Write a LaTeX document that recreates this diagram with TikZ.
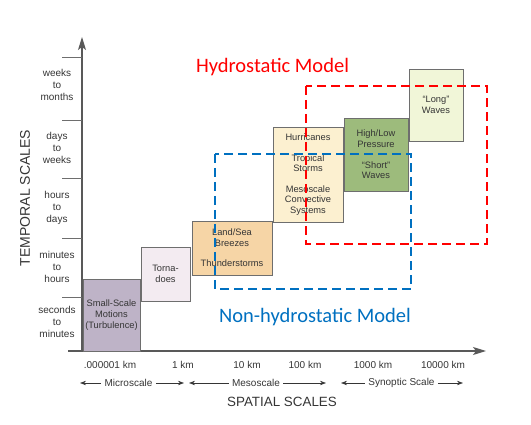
\documentclass[tikz,border=0pt]{standalone}
\usepackage{fontspec}
\setmainfont{Liberation Sans}
\newfontfamily\titlefont{Carlito}
\usepackage{xcolor}
\usetikzlibrary{arrows.meta}
\definecolor{inkgray}{HTML}{353535}
\definecolor{boxgray}{HTML}{6E6E6E}
\definecolor{turbfill}{HTML}{BEB3C7}
\definecolor{tornfill}{HTML}{F3EBF1}
\definecolor{landfill}{HTML}{F6D5A6}
\definecolor{hurrfill}{HTML}{FCF0D0}
\definecolor{pressfill}{HTML}{9DBB7C}
\definecolor{longfill}{HTML}{F1F6D8}
\definecolor{hydrored}{HTML}{FF0000}
\definecolor{nonblue}{HTML}{0070C0}
\tikzset{cell/.style = {draw=boxgray, line width=0.8pt, align=center, inner sep=0pt, text=inkgray, font=\fontsize{9.3}{10.6}\selectfont}}
\tikzset{axis/.style = {-{Stealth[length=13pt,width=8pt,inset=3pt]}, line width=1.3pt, black!65}}
\tikzset{tick/.style = {line width=0.8pt, boxgray}}
\tikzset{scalearrow/.style = {-{Stealth[length=6pt,width=4.4pt]}, line width=0.6pt, inkgray}}
\tikzset{smalltext/.style = {align=center, text=inkgray, font=\fontsize{10}{12}\selectfont}}
\tikzset{modelbox/.style = {line width=2.4pt, dash pattern=on 9pt off 5pt}}

\begin{document}
\begin{tikzpicture}[x=1pt,y=-1pt]
		\useasboundingbox (0,0) rectangle (531,425);

		%draw the two axes
		\coordinate (O) at (82,351);
		\coordinate (ytop) at (82,37);
		\coordinate (xstart) at (68,351);
		\coordinate (xend) at (486,351);
		\draw[axis] (O) -- (ytop);
		\draw[axis] (xstart) -- (xend);
		\foreach \y in {57,120,178,238,297}{\draw[tick] (62,\y) -- (82,\y);}

		%temporal scales
		\node[smalltext](weeks) at (57,85){weeks\\to\\months};
		\node[smalltext](days) at (57,148){days\\to\\weeks};
		\node[smalltext](hours) at (57,208){hours\\to\\days};
		\node[smalltext](minutes) at (57,267){minutes\\to\\hours};
		\node[smalltext](seconds) at (57,322){seconds\\to\\minutes};
		\node[rotate=90, text=inkgray, font=\fontsize{14}{16}\selectfont](temporal) at (25,198){TEMPORAL SCALES};

		%spatial scales
		\node[smalltext](km0) at (110,365){.000001 km};
		\node[smalltext](km1) at (183,365){1 km};
		\node[smalltext](km10) at (247,365){10 km};
		\node[smalltext](km100) at (305,365){100 km};
		\node[smalltext](km1000) at (373,365){1000 km};
		\node[smalltext](km10000) at (443,365){10000 km};

		\node[smalltext](micro) at (128.5,383){Microscale};
		\coordinate (microL) at (80,383);
		\coordinate (microR) at (184,383);
		\draw[scalearrow] (micro) -- (microL);
		\draw[scalearrow] (micro) -- (microR);
		\node[smalltext](meso) at (256,383){Mesoscale};
		\coordinate (mesoL) at (189,383);
		\coordinate (mesoR) at (326,383);
		\draw[scalearrow] (meso) -- (mesoL);
		\draw[scalearrow] (meso) -- (mesoR);
		\node[smalltext](synoptic) at (401.5,383){Synoptic Scale};
		\coordinate (synL) at (341,383);
		\coordinate (synR) at (463,383);
		\draw[scalearrow] (synoptic) -- (synL);
		\draw[scalearrow] (synoptic) -- (synR);
		\node[text=inkgray, font=\fontsize{13.4}{15}\selectfont](spatial) at (282,402){SPATIAL SCALES};

		%phenomena boxes
		\node[cell, fill=turbfill, minimum width=57pt, minimum height=72pt](turb) at (111.5,315){Small-Scale\\Motions\\(Turbulence)};
		\node[cell, fill=tornfill, minimum width=49pt, minimum height=54pt](torn) at (165.5,274){Torna-\\does};
		\node[cell, fill=landfill, minimum width=80pt, minimum height=54pt](land) at (232,248){Land/Sea\\Breezes\\[10pt]Thunderstorms};
		\node[cell, fill=hurrfill, minimum width=70pt, minimum height=95pt](hurr) at (308,174.5){Hurricanes\\[10pt]Tropical\\Storms\\[10pt]Mesoscale\\Convective\\Systems};
		\node[cell, fill=pressfill, minimum width=64pt, minimum height=73pt](press) at (376,154.5){High/Low\\Pressure\\[10pt]``Short''\\Waves};
		\node[cell, fill=longfill, minimum width=54pt, minimum height=72pt](long) at (436,105){``Long''\\Waves};

		%model regions
		\draw[modelbox, hydrored] (306,86) rectangle (487,244);
		\draw[modelbox, nonblue] (215,154) rectangle (411,289);
		\node[text=hydrored, font=\titlefont\fontsize{20.5}{24}\selectfont](hydro) at (272.5,67){Hydrostatic Model};
		\node[text=nonblue, font=\titlefont\fontsize{20.5}{24}\selectfont](nonhydro) at (315,317){Non-hydrostatic Model};
		\end{tikzpicture}
\end{document}
